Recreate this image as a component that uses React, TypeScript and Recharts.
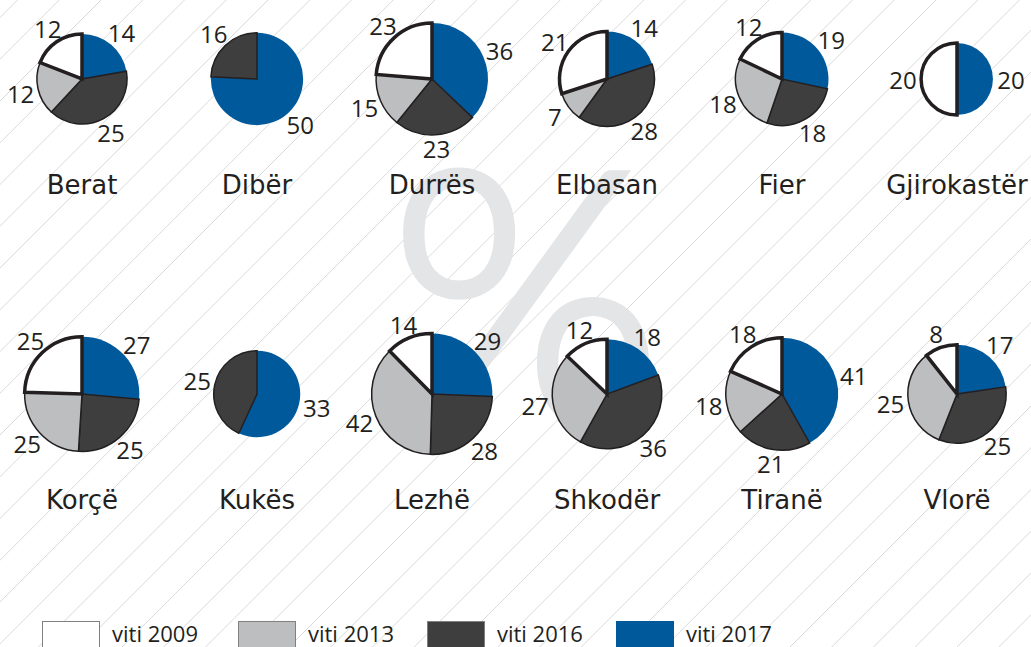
import React from 'react';
import { PieChart, Pie, Cell, Legend } from 'recharts';

const regions = ['Berat', 'Dibër', 'Durrës', 'Elbasan', 'Fier', 'Gjirokastër', 'Korçë', 'Kukës', 'Lezhë', 'Shkodër', 'Tiranë', 'Vlorë'];
const v2009 = [12, 0, 23, 21, 12, 20, 25, 0, 14, 12, 18, 8];
const v2013 = [12, 0, 15, 7, 18, 0, 25, 0, 42, 27, 18, 25];
const v2016 = [25, 16, 23, 28, 18, 0, 25, 25, 28, 36, 21, 25];
const v2017 = [14, 50, 36, 14, 19, 20, 27, 33, 29, 18, 41, 17];
const yearLabels = ['viti 2009', 'viti 2013', 'viti 2016', 'viti 2017'];

const W = 1031;
const H = 647;
const INK = '#231f20';
const FILLS = ['#ffffff', '#bcbec0', '#3e3e3f', '#00599b'];
const STROKES = [INK, INK, INK, 'none'];
const STROKE_W = [3.5, 1.5, 1.5, 0];
const NUM_FONT = '"Open Sans", sans-serif';
const NAME_FONT = '"DejaVu Sans", sans-serif';

const colX = (i: number) => 82 + (i % 6) * 175;
const rowY = (i: number) => (i < 6 ? 79 : 394);

// drawing order clockwise from 12 o'clock: 2017, 2016, 2013, 2009
const seriesOrder = [3, 2, 1, 0];
const seriesVals = [v2009, v2013, v2016, v2017];

const buildData = (i: number) =>
  seriesOrder
    .map((y) => ({ name: yearLabels[y], value: seriesVals[y][i], year: y }))
    .filter((d) => d.value > 0);

const total = (i: number) => v2009[i] + v2013[i] + v2016[i] + v2017[i];

const renderLabel = (p: any) => {
  const RAD = Math.PI / 180;
  const c = Math.cos(-p.midAngle * RAD);
  const s = Math.sin(-p.midAngle * RAD);
  const r = p.outerRadius + 13 + 5 * Math.abs(c);
  const x = p.cx + r * c;
  const y = p.cy + r * s;
  return (
    <text x={x} y={y} textAnchor="middle" dominantBaseline="central" fill={INK} fontSize={24} fontFamily={NUM_FONT}>
      {p.value}
    </text>
  );
};

const LegendContent = () => (
  <div style={{ display: 'flex', alignItems: 'flex-start', fontFamily: NUM_FONT, fontSize: 22, color: INK }}>
    {yearLabels.map((l, i) => (
      <div key={l} style={{ display: 'flex', alignItems: 'flex-start', marginRight: i === 0 ? 40 : 33 }}>
        <div
          style={{
            width: i === 3 ? 58 : 56,
            height: 30,
            background: FILLS[i],
            border: i === 3 ? 'none' : '1px solid #808080',
            marginRight: 12,
          }}
        />
        <span style={{ lineHeight: '22px', marginTop: 1 }}>{l}</span>
      </div>
    ))}
  </div>
);

const lines: number[] = [];
for (let c = 17.5 - 41.75 * 2; c < W + H + 42; c += 41.75) lines.push(c);

export default function App() {
  return (
    <div style={{ position: 'absolute', left: 0, top: 0, width: W, height: H, background: '#fff', overflow: 'hidden' }}>
      <svg width={W} height={H} style={{ position: 'absolute', left: 0, top: 0 }}>
        {lines.map((c) => (
          <line key={c} x1={c} y1={0} x2={c - H} y2={H} stroke="#dadada" strokeWidth={1} />
        ))}
        <text
          x={526}
          y={422}
          textAnchor="middle"
          fontSize={350}
          fontFamily='"Lato", sans-serif'
          fontWeight={300}
          fill="#e4e5e6"
          stroke="#e4e5e6"
          strokeWidth={8}
        >
          %
        </text>
        {regions.map((r, i) => (
          <text key={r} x={colX(i)} y={rowY(i) + 115} textAnchor="middle" fontSize={26} fontFamily={NAME_FONT} fill={INK}>
            {r}
          </text>
        ))}
      </svg>
      <div style={{ position: 'absolute', left: 0, top: 0 }}>
        <PieChart width={W} height={H} margin={{ top: 0, right: 0, bottom: 0, left: 0 }}>
          {regions.map((r, i) => (
            <Pie
              key={r}
              data={buildData(i)}
              dataKey="value"
              nameKey="name"
              cx={colX(i)}
              cy={rowY(i)}
              innerRadius={0}
              outerRadius={5.68 * Math.sqrt(total(i))}
              startAngle={90}
              endAngle={-270}
              labelLine={false}
              label={renderLabel}
              isAnimationActive={false}
            >
              {buildData(i).map((d) => (
                <Cell key={d.year} fill={FILLS[d.year]} stroke={STROKES[d.year]} strokeWidth={STROKE_W[d.year]} />
              ))}
            </Pie>
          ))}
          <Legend
            content={<LegendContent />}
            wrapperStyle={{ position: 'absolute', left: 42, top: 621, width: 900, height: 30 }}
          />
        </PieChart>
      </div>
    </div>
  );
}
